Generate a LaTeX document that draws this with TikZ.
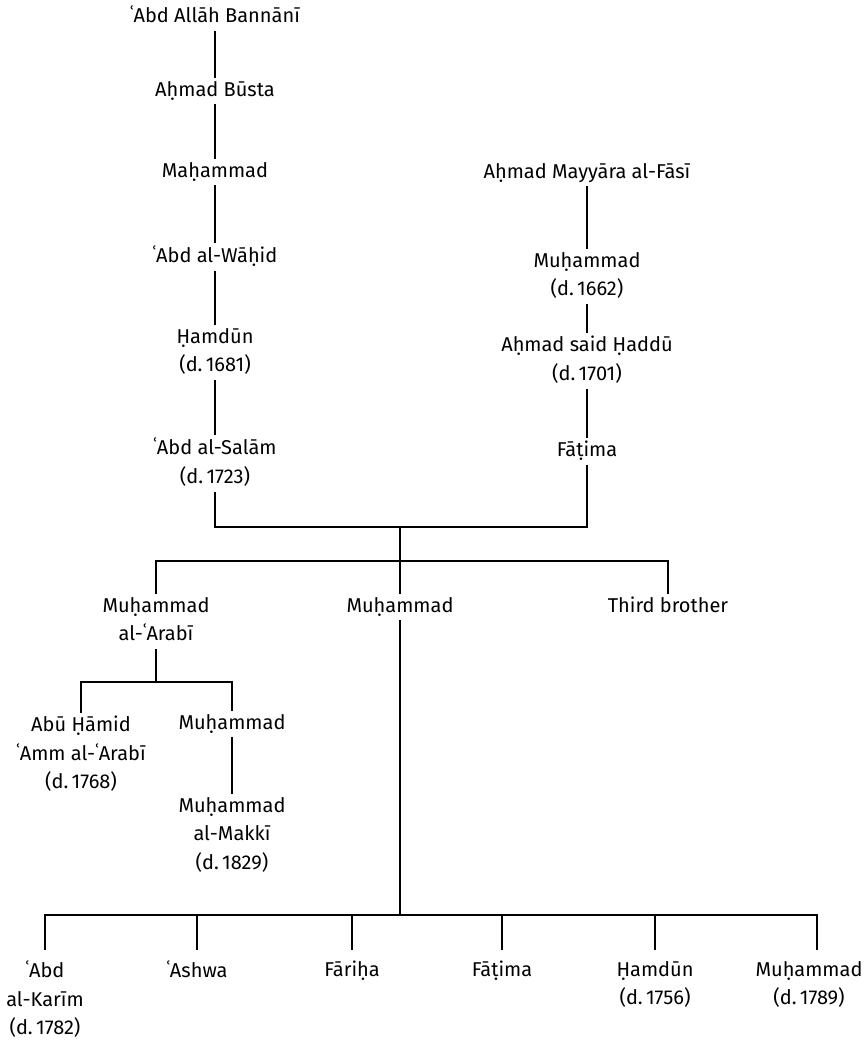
\documentclass[tikz,border=0pt]{standalone}
\usepackage{fontspec}
\setmainfont{Fira Sans}
\newcommand\gstrut{\rule[-5pt]{0pt}{15pt}}
\tikzset{
  person/.style={anchor=north, inner sep=3pt, align=center,
    font=\fontsize{20}{28.5}\selectfont,
    execute at begin node=\gstrut, execute at end node=\gstrut},
  link/.style={line width=1.1pt, draw=black},
}
\begin{document}
\begin{tikzpicture}[x=1pt,y=-1pt]
\useasboundingbox (0,0) rectangle (864,1043);
% left line
\node[person] (a1) at (215,3) {ʿAbd Allāh Bannānī};
\node[person] (a2) at (215,78) {Aḥmad Būsta};
\node[person] (a3) at (215,159) {Maḥammad};
\node[person] (a4) at (215,243) {ʿAbd al-Wāḥid};
\node[person] (a5) at (215,325) {Ḥamdūn\\(d.\,1681)};
\node[person] (a6) at (215,435) {ʿAbd al-Salām\\(d.\,1723)};
% right line
\node[person] (b1) at (587,160) {Aḥmad Mayyāra al-Fāsī};
\node[person] (b2) at (587,249) {Muḥammad\\(d.\,1662)};
\node[person] (b3) at (587,333) {Aḥmad said Ḥaddū\\(d.\,1701)};
\node[person] (b4) at (587,438) {Fāṭima};
% sons
\node[person] (c1) at (156,594) {Muḥammad\\al-ʿArabī};
\node[person] (c2) at (400,594) {Muḥammad};
\node[person] (c3) at (668,594) {Third brother};
% grandsons via al-Arabi
\node[person] (d1) at (81,713) {Abū Ḥāmid\\ʿAmm al-ʿArabī\\(d.\,1768)};
\node[person] (d2) at (232,711) {Muḥammad};
\node[person] (d3) at (232,794) {Muḥammad\\al-Makkī\\(d.\,1829)};
% children of Muhammad
\node[person] (e1) at (45,958) {ʿAbd\\al-Karīm\\(d.\,1782)};
\node[person] (e2) at (197,958) {ʿAshwa};
\node[person] (e3) at (352,958) {Fāriḥa};
\node[person] (e4) at (502,958) {Fāṭima};
\node[person] (e5) at (655,958) {Ḥamdūn\\(d.\,1756)};
\node[person] (e6) at (809,958) {Muḥammad\\(d.\,1789)};
% connectors
\draw[link] (a1.south) -- (a2.north);
\draw[link] (a2.south) -- (a3.north);
\draw[link] (a3.south) -- (a4.north);
\draw[link] (a4.south) -- (a5.north);
\draw[link] (a5.south) -- (a6.north);
\draw[link] (b1.south) -- (b2.north);
\draw[link] (b2.south) -- (b3.north);
\draw[link] (b3.south) -- (b4.north);
\coordinate (marr) at (400,527);
\coordinate (sib) at (400,561);
\draw[link] (a6.south) |- (marr) -| (b4.south);
\draw[link] (marr) -- (sib);
\draw[link] (c1.north) |- (sib) -| (c3.north);
\draw[link] (sib) -- (c2.north);
\coordinate (arj) at (156,682);
\draw[link] (c1.south) -- (arj);
\draw[link] (d1.north) |- (arj) -| (d2.north);
\draw[link] (d2.south) -- (d3.north);
\coordinate (kids) at (400,915);
\draw[link] (c2.south) -- (kids);
\draw[link,shorten >=8pt] (kids) -| (e1.north);
\draw[link,shorten >=8pt] (kids) -| (e2.north);
\draw[link,shorten >=8pt] (kids) -| (e3.north);
\draw[link,shorten >=8pt] (kids) -| (e4.north);
\draw[link,shorten >=8pt] (kids) -| (e5.north);
\draw[link,shorten >=8pt] (kids) -| ([xshift=8pt]e6.north);
\end{tikzpicture}
\end{document}
